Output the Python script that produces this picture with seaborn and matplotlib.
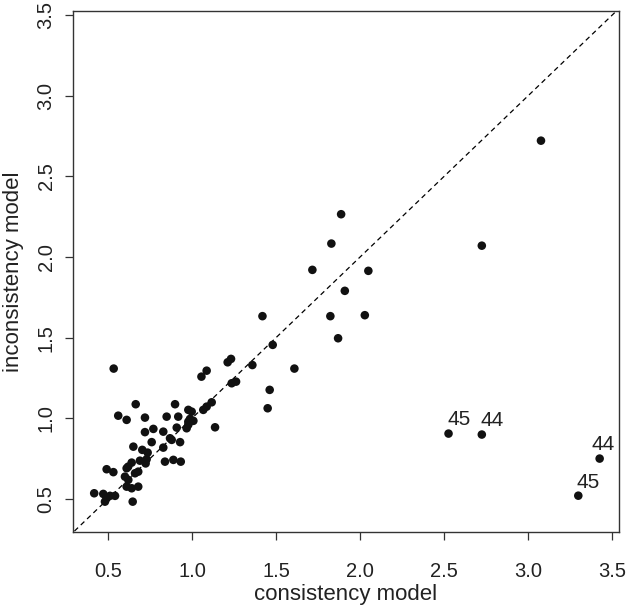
import numpy as np
import pandas as pd
import seaborn as sns
import matplotlib.pyplot as plt

# consistency model (x) vs inconsistency model (y)
consistency = [
    0.418, 0.472, 0.492, 0.482, 0.512, 0.542, 0.647, 0.611, 0.641, 0.680,
    0.601, 0.621, 0.661, 0.680, 0.611, 0.641, 0.690, 0.730, 0.736, 0.704,
    0.651, 0.492, 0.532, 0.534, 0.561, 0.611, 0.665, 0.720, 0.720, 0.770,
    0.760, 0.829, 0.829, 0.849, 0.899, 0.918, 0.869, 0.879, 0.909, 0.929,
    0.839, 0.889, 0.933, 0.978, 0.998, 0.988, 0.978, 1.008, 0.968, 0.978,
    1.067, 1.087, 1.117, 1.137, 1.056, 1.087, 1.212, 1.232, 1.236, 1.262,
    1.359, 0.620, 0.724,
    1.419, 1.480, 1.609, 1.462, 1.450, 1.716, 1.829, 1.887, 2.049, 1.909,
    1.823, 2.028, 1.869, 3.076, 2.724,
]
inconsistency = [
    0.535, 0.531, 0.504, 0.483, 0.519, 0.519, 0.483, 0.576, 0.566, 0.576,
    0.638, 0.618, 0.659, 0.669, 0.690, 0.725, 0.737, 0.746, 0.787, 0.804,
    0.824, 0.684, 0.666, 1.308, 1.016, 0.990, 1.087, 1.004, 0.914, 0.934,
    0.852, 0.917, 0.818, 1.010, 1.087, 1.010, 0.876, 0.866, 0.942, 0.852,
    0.731, 0.742, 0.731, 1.052, 1.041, 0.996, 0.979, 0.984, 0.938, 0.960,
    1.052, 1.072, 1.099, 0.944, 1.258, 1.295, 1.347, 1.368, 1.217, 1.227,
    1.330, 0.700, 0.720,
    1.633, 1.455, 1.308, 1.176, 1.062, 1.920, 2.083, 2.265, 1.914, 1.790,
    1.633, 1.639, 1.496, 2.721, 2.070,
]

# labelled studies
lab_x = [2.526, 2.724, 3.425, 3.298]
lab_y = [0.905, 0.899, 0.750, 0.520]
lab_text = ["45", "44", "44", "45"]
lab_dx = [-1, -1, -6, -1]   # text nudge in points

df = pd.DataFrame({"consistency": consistency + lab_x,
                   "inconsistency": inconsistency + lab_y})

sns.set_theme(style="ticks")
plt.rcParams['font.family'] = ['Liberation Sans', 'DejaVu Sans']

fig = plt.figure(figsize=(6.3, 6.07), dpi=100)
ax = fig.add_axes([0.1159, 0.1236, 0.8666, 0.8583])

ax.plot([0, 4], [0, 4], ls=(0, (4, 3)), color="black", lw=0.9, zorder=1)
sns.scatterplot(data=df, x="consistency", y="inconsistency", ax=ax,
                color="#111111", s=38, edgecolor="none", zorder=2)

for x, y, t, dx in zip(lab_x, lab_y, lab_text, lab_dx):
    ax.annotate(t, (x, y), xytext=(dx, 3), textcoords="offset points",
                ha="left", va="bottom", fontsize=15, color="#222222")

ax.set_xlim(0.292, 3.54)
ax.set_ylim(0.295, 3.525)
ticks = [0.5, 1.0, 1.5, 2.0, 2.5, 3.0, 3.5]
ax.set_xticks(ticks)
ax.set_yticks(ticks)
ax.set_xticklabels([f"{t:.1f}" for t in ticks])
ax.set_yticklabels([f"{t:.1f}" for t in ticks], rotation=90, va="center")
ax.tick_params(axis="both", length=5.5, width=0.9, color="#333333",
               labelsize=14.5, labelcolor="#222222")
ax.tick_params(axis="x", pad=16)
ax.tick_params(axis="y", pad=7)

for sp in ax.spines.values():
    sp.set_visible(True)
    sp.set_color("#333333")
    sp.set_linewidth(1.0)

ax.set_xlabel("consistency model", fontsize=16, color="#222222", labelpad=2)
ax.set_ylabel("inconsistency model", fontsize=16, color="#222222", labelpad=9)

fig.savefig("out.png", dpi=100)
